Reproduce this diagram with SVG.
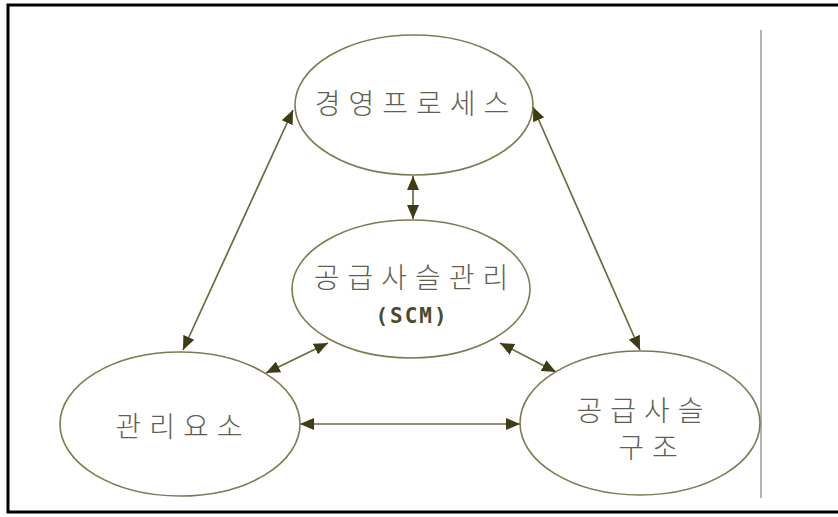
<svg xmlns="http://www.w3.org/2000/svg" width="838" height="517" viewBox="0 0 838 517">
  <style>
    .node ellipse { fill: #ffffff; stroke: #7d7a4e; stroke-width: 1.6; }
    .label { font-family: "Noto Sans CJK KR", "Noto Sans", sans-serif; font-size: 28px; font-weight: 300; fill: #5e5e52; text-anchor: middle; letter-spacing: 8px; }
    .abbr { font-family: "DejaVu Sans Mono", "Liberation Mono", monospace; font-size: 21px; font-weight: bold; fill: #4a4a2c; text-anchor: middle; letter-spacing: 2px; }
    .edge { stroke: #6c6a3c; stroke-width: 1.7; fill: none; marker-start: url(#tip); marker-end: url(#tip); }
  </style>
  <defs>
    <marker id="tip" viewBox="0 0 14 12" refX="14" refY="6" markerWidth="14" markerHeight="12" markerUnits="userSpaceOnUse" orient="auto-start-reverse">
      <path d="M0,0 L14,6 L0,12 Z" fill="#3e3c14"/>
    </marker>
  </defs>

  <rect width="838" height="517" fill="#ffffff"/>
  <!-- outer frame, open on the right -->
  <path d="M840,5 H8 V512 H840" fill="none" stroke="#000000" stroke-width="3"/>
  <!-- thin divider on the right -->
  <line x1="761" y1="30" x2="761" y2="498" stroke="#9a9a9a" stroke-width="1.5"/>

  <g id="connectors">
    <line class="edge" x1="293" y1="110" x2="183" y2="350"/>
    <line class="edge" x1="533" y1="107" x2="640" y2="350"/>
    <line class="edge" x1="413" y1="176" x2="413" y2="219"/>
    <line class="edge" x1="328" y1="343" x2="266" y2="373"/>
    <line class="edge" x1="500" y1="343" x2="556" y2="372"/>
    <line class="edge" x1="300" y1="424" x2="520" y2="424"/>
  </g>

  <g id="process" class="node">
    <ellipse cx="414" cy="105" rx="119" ry="70"/>
    <text class="label" x="416" y="114">경영프로세스</text>
  </g>

  <g id="scm" class="node">
    <ellipse cx="411" cy="289" rx="119" ry="69"/>
    <text class="label" x="415" y="288">공급사슬관리</text>
    <text class="abbr" x="412" y="323">(SCM)</text>
  </g>

  <g id="management" class="node">
    <ellipse cx="180" cy="424" rx="120" ry="72"/>
    <text class="label" x="183" y="437">관리요소</text>
  </g>

  <g id="structure" class="node">
    <ellipse cx="640" cy="423" rx="120" ry="72"/>
    <text class="label" x="644" y="421">공급사슬</text>
    <text class="label" x="652" y="458">구조</text>
  </g>
</svg>
